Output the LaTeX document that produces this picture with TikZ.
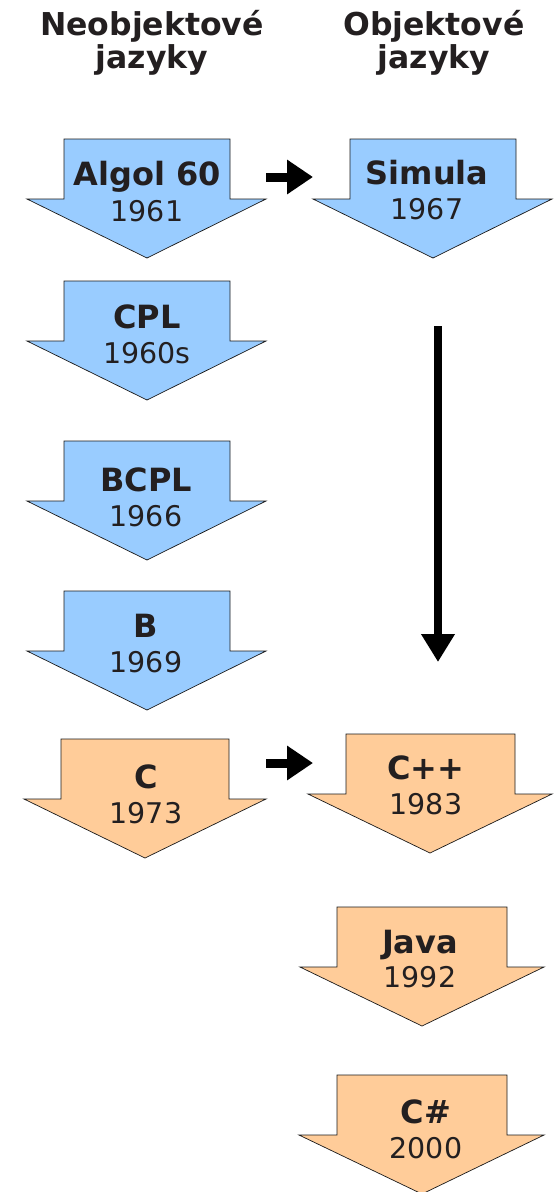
\documentclass[tikz,border=0pt]{standalone}
\usepackage{fontspec}
\setmainfont{DejaVu Sans}
\usetikzlibrary{arrows.meta}
\definecolor{lblue}{HTML}{99CCFF}
\definecolor{lorange}{HTML}{FFCC99}
\definecolor{txt}{HTML}{231F20}
\definecolor{edge}{HTML}{1A1A1A}
\newcommand{\blockarr}[8]{%
  \draw[barrow, fill=#1] (#2,#4) -- (#3,#4) -- (#3,#5) -- (#7,#5) -- (#8,{#5+59}) -- (#6,#5) -- (#2,#5) -- cycle;}
\tikzset{
  barrow/.style={draw=edge, line width=0.7pt, line join=miter},
  ttl/.style={font=\fontsize{32}{34}\selectfont\bfseries, text=txt, inner sep=0pt, anchor=base},
  yr/.style={font=\fontsize{28.5}{30}\selectfont, text=txt, inner sep=0pt, anchor=base},
  head/.style={font=\fontsize{31.5}{33}\selectfont\bfseries, text=txt, inner sep=0pt, anchor=base},
  conn/.style={line width=9pt, -{Triangle[length=26pt,width=33pt]}, black},
  vconn/.style={line width=8pt, -{Triangle[length=28pt,width=32pt]}, black}
}
\begin{document}
\begin{tikzpicture}[x=1pt,y=-1pt]
\useasboundingbox (0,0) rectangle (558,1192);
% column headings
\node[head] (h1a) at (152,35) {Neobjektové};
\node[head] (h1b) at (152,68) {jazyky};
\node[head] (h2a) at (434,35) {Objektové};
\node[head] (h2b) at (434,68) {jazyky};
% left column
\blockarr{lblue}{64}{230}{139}{199}{27}{266}{147}
\node[ttl] (algol) at (147,185) {Algol 60};
\node[yr] (algolY) at (147,221) {1961};
\blockarr{lblue}{64}{230}{281}{341}{27}{266}{147}
\node[ttl] (cpl) at (147,328) {CPL};
\node[yr] (cplY) at (147,363) {1960s};
\blockarr{lblue}{64}{230}{441}{501}{27}{266}{147}
\node[ttl] (bcpl) at (146,491) {BCPL};
\node[yr] (bcplY) at (146,526) {1966};
\blockarr{lblue}{64}{230}{591}{651}{27}{266}{147}
\node[ttl] (b) at (146,637) {B};
\node[yr] (bY) at (146,672) {1969};
\blockarr{lorange}{61}{229}{739}{799}{24}{266}{145}
\node[ttl] (c) at (146,788) {C};
\node[yr] (cY) at (146,823) {1973};
% right column
\blockarr{lblue}{350}{516}{139}{199}{313}{552}{433}
\node[ttl] (simula) at (427,184) {Simula};
\node[yr] (simulaY) at (427,219) {1967};
\blockarr{lorange}{346}{515}{734}{794}{308}{552}{430}
\node[ttl] (cpp) at (426,779) {C++};
\node[yr] (cppY) at (426,814) {1983};
\blockarr{lorange}{337}{507}{907}{967}{300}{544}{422}
\node[ttl] (java) at (420,953) {Java};
\node[yr] (javaY) at (420,987) {1992};
\blockarr{lorange}{337}{507}{1075}{1135}{299}{544}{422}
\node[ttl] (cs) at (426,1123) {C\#};
\node[yr] (csY) at (426,1158) {2000};
% connectors
\coordinate (algolR) at (266,177);
\coordinate (simulaL) at (313,177);
\coordinate (cR) at (266,763);
\coordinate (cppL) at (313,763);
\coordinate (simBelow) at (438,326);
\coordinate (cppAbove) at (438,662);
\draw[conn] (algolR) -- (simulaL);
\draw[conn] (cR) -- (cppL);
\draw[vconn] (simBelow) -- (cppAbove);
\end{tikzpicture}
\end{document}
